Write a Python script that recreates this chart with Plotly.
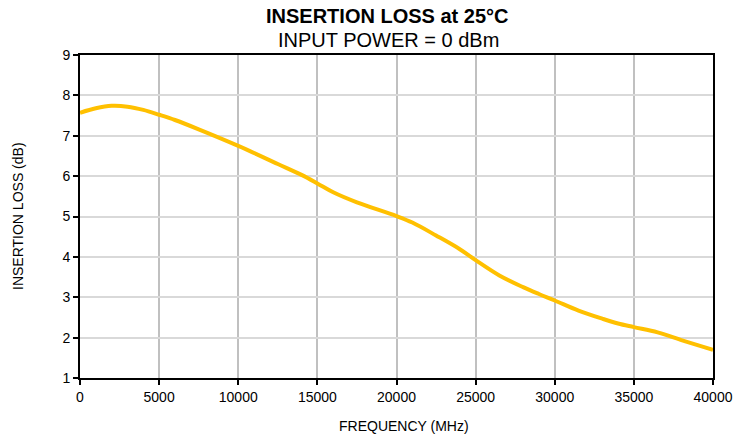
import plotly.graph_objects as go

freq_mhz = [0, 1000, 2000, 3000, 4000, 5000, 6000, 7500, 10000, 12500, 14000, 15000,
            16000, 17500, 20000, 21000, 22500, 24000, 25000, 26500, 28000, 29000,
            30000, 31500, 33000, 34000, 35000, 36500, 38000, 40000]
loss_db = [7.57, 7.68, 7.74, 7.72, 7.64, 7.52, 7.39, 7.16, 6.75, 6.30, 6.03, 5.82,
           5.60, 5.35, 5.01, 4.85, 4.53, 4.19, 3.92, 3.54, 3.25, 3.08,
           2.92, 2.67, 2.47, 2.35, 2.26, 2.13, 1.94, 1.70]

x_ticks = [0, 5000, 10000, 15000, 20000, 25000, 30000, 35000, 40000]
x_labels = ["0", "5000", "10000", "15000", "20000", "25000", "30000", "35000", "40000"]
y_ticks = [1, 2, 3, 4, 5, 6, 7, 8, 9]

title_text = "<b>INSERTION LOSS at 25°C</b>"
subtitle_text = "INPUT POWER = 0 dBm"
x_title = "FREQUENCY (MHz)"
y_title = "INSERTION LOSS (dB)"

font = "Liberation Sans, Arial, sans-serif"
W, H = 735, 439
# plot area in page pixels: x 80..713, y 55..378
L, T = 80, 55
R = W - 713
B = H - 378
pw, ph = W - L - R, H - T - B


def px_x(p):
    return (p - L) / pw


def px_y(p):
    return 1 - (p - T) / ph


fig = go.Figure()
fig.add_trace(go.Scatter(x=freq_mhz, y=loss_db, mode="lines",
                         line=dict(color="#FFC000", width=4, shape="spline", smoothing=1.0),
                         showlegend=False, hoverinfo="skip"))

axis_common = dict(ticks="outside", ticklen=5, tickcolor="black", tickwidth=1.5,
                   showline=True, linecolor="black", linewidth=2, mirror=True,
                   showgrid=True, zeroline=False, automargin=False,
                   tickfont=dict(size=14, color="black"))

fig.update_layout(
    width=W, height=H,
    margin=dict(l=L, r=R, t=T, b=B),
    paper_bgcolor="white", plot_bgcolor="white",
    font=dict(family=font, size=14, color="black"),
    xaxis=dict(range=[0, 40000], tickvals=x_ticks, ticktext=x_labels,
               gridcolor="#C0C0C0", gridwidth=2, **axis_common),
    yaxis=dict(range=[1, 9], tickvals=y_ticks, gridcolor="#D9D9D9", gridwidth=2,
               **axis_common),
    annotations=[
        dict(text=title_text, x=px_x(387), y=px_y(16), xref="paper", yref="paper",
             xanchor="center", yanchor="middle", showarrow=False, font=dict(size=20)),
        dict(text=subtitle_text, x=px_x(388), y=px_y(40), xref="paper", yref="paper",
             xanchor="center", yanchor="middle", showarrow=False, font=dict(size=20)),
        dict(text=x_title, x=px_x(404), y=px_y(426), xref="paper", yref="paper",
             xanchor="center", yanchor="middle", showarrow=False, font=dict(size=14)),
        dict(text=y_title, x=px_x(18), y=px_y(216), xref="paper", yref="paper",
             xanchor="center", yanchor="middle", showarrow=False, textangle=-90,
             font=dict(size=14)),
    ],
)

fig.write_html("out.html", config={"displayModeBar": False},
               post_script="document.body.style.margin='0px';document.body.style.overflow='hidden';")
